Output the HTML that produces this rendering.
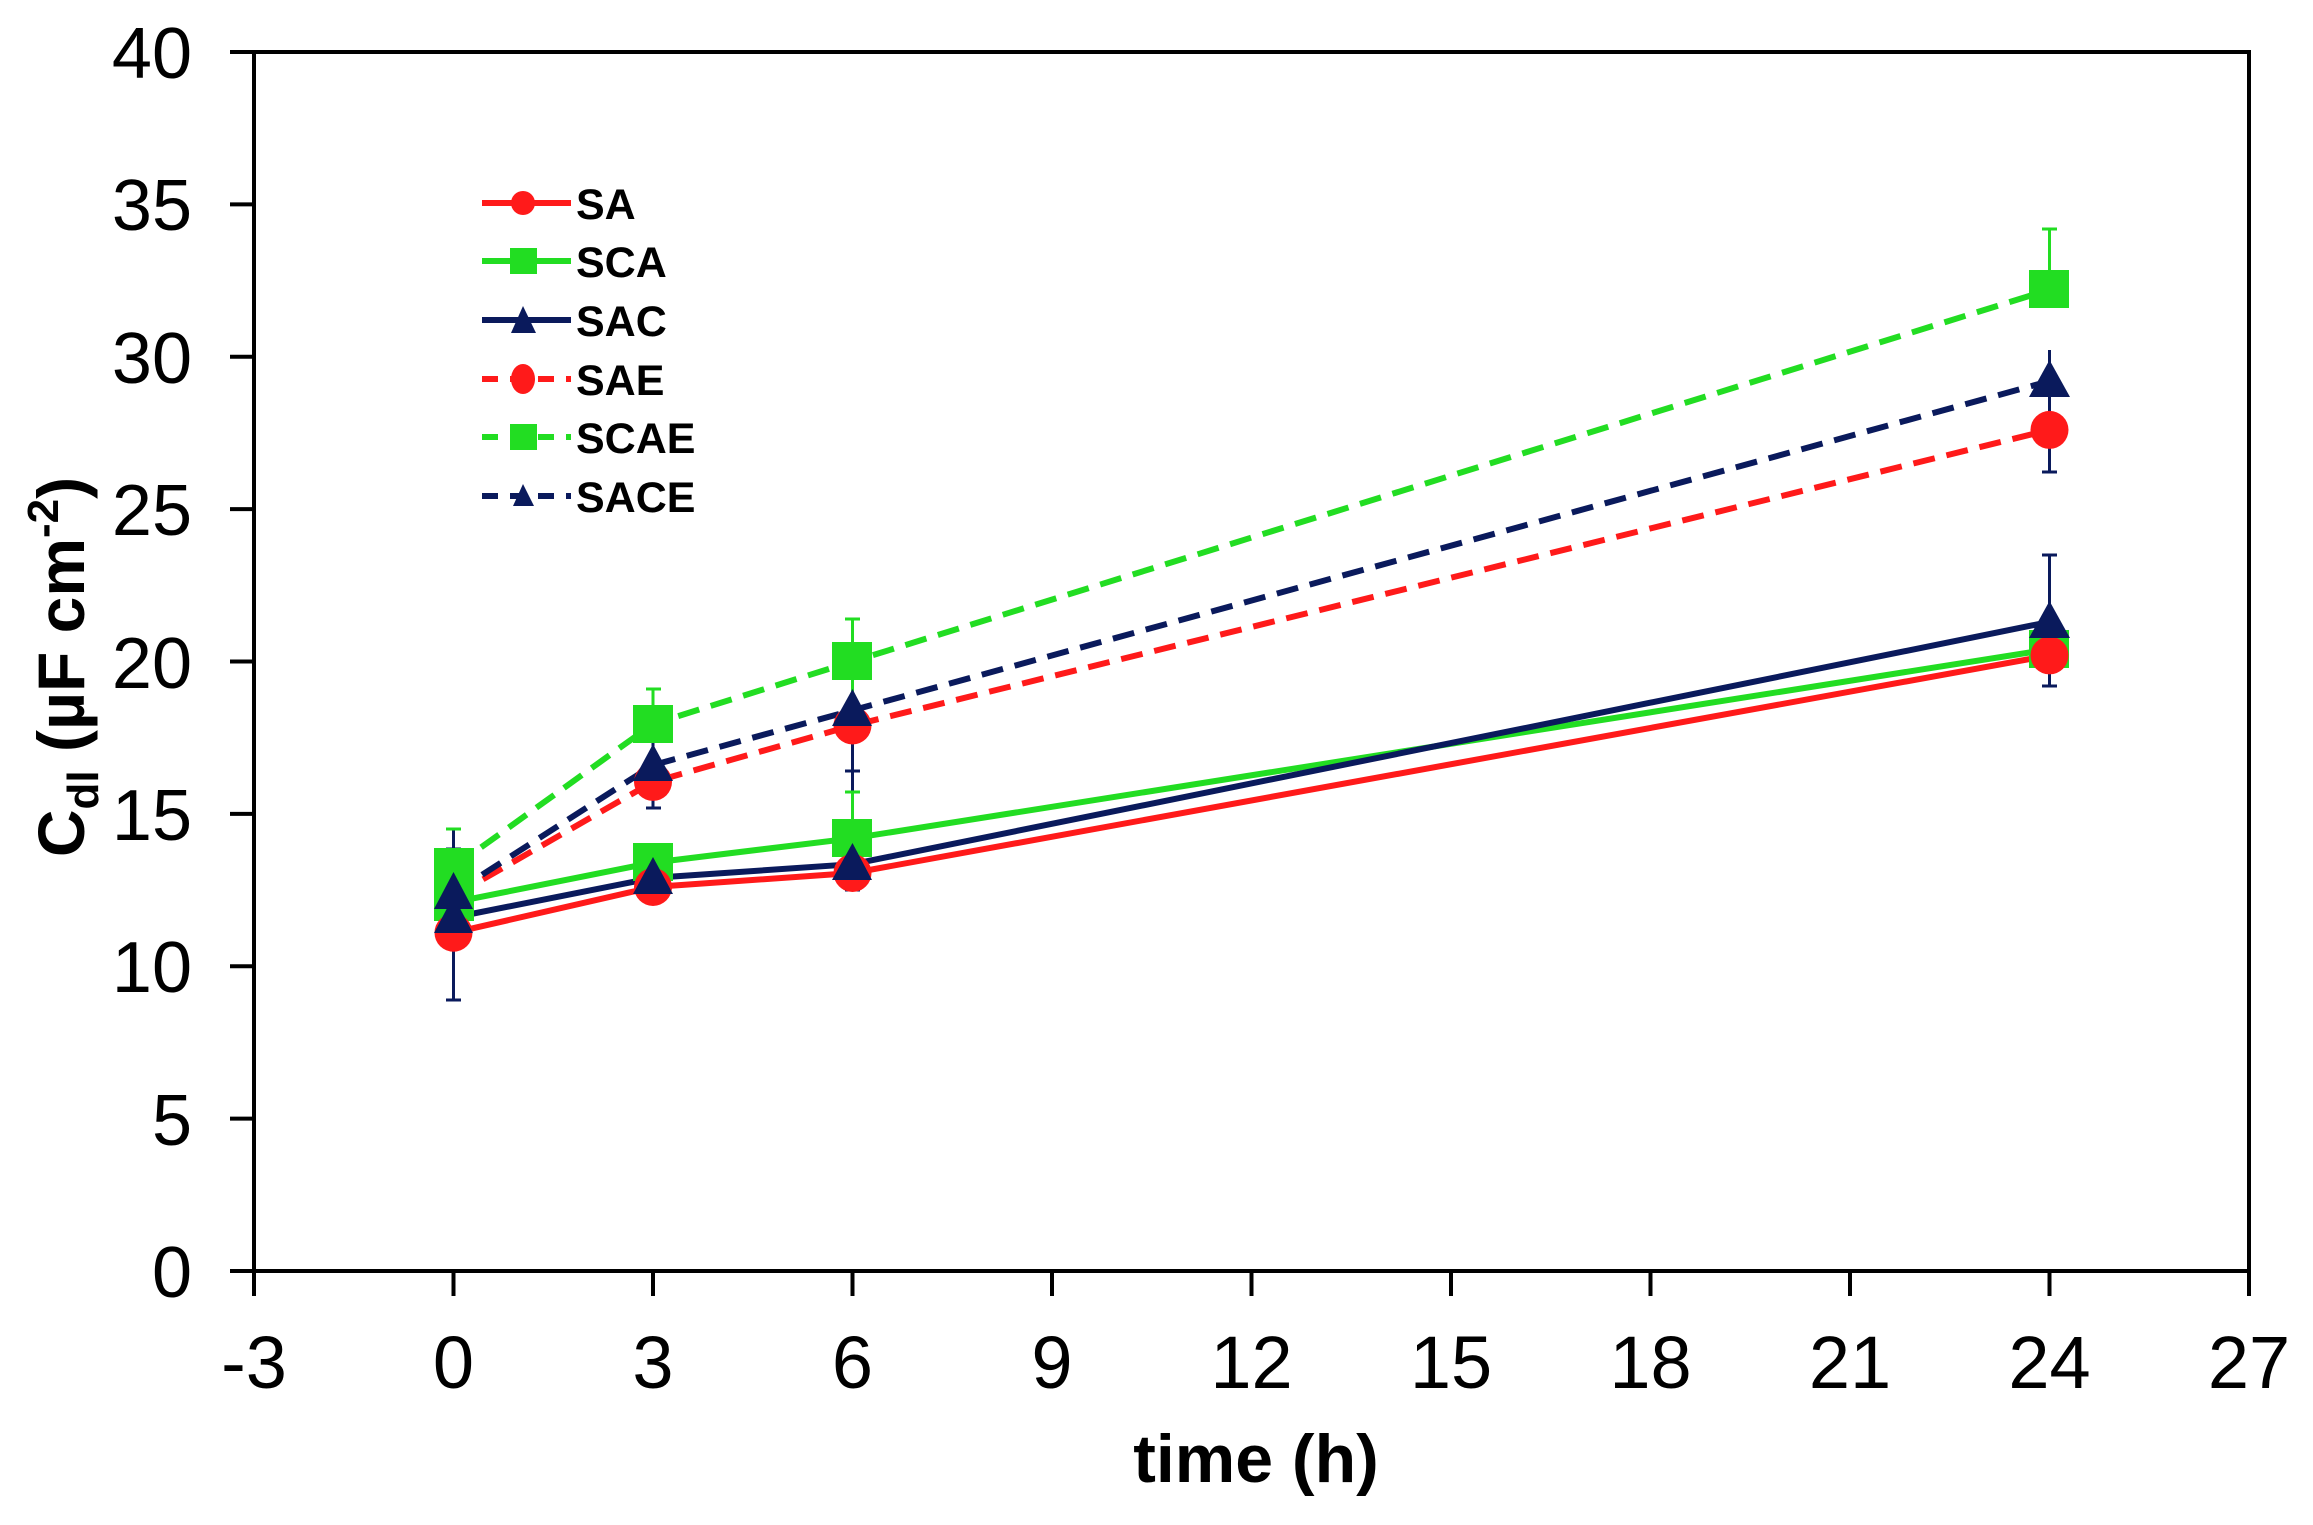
<!DOCTYPE html>
<html><head><meta charset="utf-8"><style>
html,body{margin:0;padding:0;background:#fff;}
svg{display:block}
text{font-family:"Liberation Sans",Arial,sans-serif;}
</style></head><body>
<svg width="2313" height="1525" viewBox="0 0 2313 1525" xmlns="http://www.w3.org/2000/svg">
<rect width="2313" height="1525" fill="#fff"/>
<rect x="254" y="52" width="1995" height="1219" fill="none" stroke="#000" stroke-width="4"/>
<g stroke="#000" stroke-width="4">
<line x1="230" y1="52" x2="254" y2="52"/><line x1="230" y1="204.4" x2="254" y2="204.4"/>
<line x1="230" y1="356.8" x2="254" y2="356.8"/><line x1="230" y1="509.1" x2="254" y2="509.1"/>
<line x1="230" y1="661.5" x2="254" y2="661.5"/><line x1="230" y1="813.9" x2="254" y2="813.9"/>
<line x1="230" y1="966.3" x2="254" y2="966.3"/><line x1="230" y1="1118.6" x2="254" y2="1118.6"/>
<line x1="230" y1="1271" x2="254" y2="1271"/>
<line x1="254" y1="1271" x2="254" y2="1296"/><line x1="453.5" y1="1271" x2="453.5" y2="1296"/>
<line x1="653" y1="1271" x2="653" y2="1296"/><line x1="852.5" y1="1271" x2="852.5" y2="1296"/>
<line x1="1052" y1="1271" x2="1052" y2="1296"/><line x1="1251.5" y1="1271" x2="1251.5" y2="1296"/>
<line x1="1451" y1="1271" x2="1451" y2="1296"/><line x1="1650.5" y1="1271" x2="1650.5" y2="1296"/>
<line x1="1850" y1="1271" x2="1850" y2="1296"/><line x1="2049.5" y1="1271" x2="2049.5" y2="1296"/>
<line x1="2249" y1="1271" x2="2249" y2="1296"/>
</g>
<g font-size="72" text-anchor="end" fill="#000">
<text x="192" y="78">40</text><text x="192" y="230">35</text><text x="192" y="383">30</text>
<text x="192" y="535">25</text><text x="192" y="688">20</text><text x="192" y="840">15</text>
<text x="192" y="992">10</text><text x="192" y="1145">5</text><text x="192" y="1297">0</text>
</g>
<g font-size="74" text-anchor="middle" fill="#000">
<text x="254" y="1388">-3</text><text x="453.5" y="1388">0</text><text x="653" y="1388">3</text>
<text x="852.5" y="1388">6</text><text x="1052" y="1388">9</text><text x="1251.5" y="1388">12</text>
<text x="1451" y="1388">15</text><text x="1650.5" y="1388">18</text><text x="1850" y="1388">21</text>
<text x="2049.5" y="1388">24</text><text x="2249" y="1388">27</text>
</g>
<text x="1256" y="1482" font-size="68" font-weight="bold" text-anchor="middle">time (h)</text>
<text transform="translate(84,667) rotate(-90)" font-size="66" font-weight="bold" text-anchor="middle">C<tspan font-size="44" dy="14">dl</tspan><tspan dy="-14"> (µF cm</tspan><tspan font-size="44" dy="-26">-2</tspan><tspan dy="26">)</tspan></text>

<g stroke="#0a1a5c" stroke-width="3">
<line x1="453.5" y1="1000" x2="453.5" y2="829"/><line x1="446" y1="1000" x2="461" y2="1000"/><line x1="446" y1="849" x2="461" y2="849"/>
<line x1="653" y1="808" x2="653" y2="689"/><line x1="646" y1="808" x2="661" y2="808"/>
<line x1="852.5" y1="890" x2="852.5" y2="700"/><line x1="845" y1="890" x2="860" y2="890"/><line x1="845" y1="771" x2="860" y2="771"/>
<line x1="2049.5" y1="686" x2="2049.5" y2="555"/><line x1="2042" y1="686" x2="2057" y2="686"/><line x1="2042" y1="555" x2="2057" y2="555"/>
<line x1="2049.5" y1="472" x2="2049.5" y2="350"/><line x1="2042" y1="472" x2="2057" y2="472"/>
</g>
<g stroke="#22dd22" stroke-width="3">
<line x1="653" y1="689" x2="653" y2="720"/><line x1="646" y1="689" x2="661" y2="689"/>
<line x1="852.5" y1="619" x2="852.5" y2="700"/><line x1="845" y1="619" x2="860" y2="619"/>
<line x1="852.5" y1="792" x2="852.5" y2="820"/><line x1="845" y1="792" x2="860" y2="792"/>
<line x1="2049.5" y1="229" x2="2049.5" y2="300"/><line x1="2042" y1="229" x2="2057" y2="229"/>
<line x1="446" y1="829" x2="461" y2="829"/>
</g>

<g fill="none" stroke-width="6" stroke-dasharray="22,12">
<polyline stroke="#ff1a1a" points="453.5,896.2 653,781.9 852.5,725.5 2049.5,429.9"/>
<polyline stroke="#22dd22" points="453.5,867.2 653,724 852.5,661.5 2049.5,289.7"/>
<polyline stroke="#0a1a5c" points="453.5,893.1 653,765.1 852.5,710.3 2049.5,381.1"/>
</g>
<g fill="none" stroke-width="6">
<polyline stroke="#22dd22" points="453.5,902.3 653,862.6 852.5,838.3 2049.5,649.3"/>
<polyline stroke="#ff1a1a" points="453.5,932.7 653,887 852.5,873 2049.5,655.4"/>
<polyline stroke="#0a1a5c" points="453.5,917.5 653,877.9 852.5,864.2 2049.5,621.9"/>
</g>
<g fill="#22dd22">
<rect x="434" y="883" width="40" height="38"/><rect x="633" y="843" width="40" height="38"/><rect x="832" y="819" width="40" height="38"/><rect x="2029" y="630" width="40" height="38"/>
<rect x="434" y="848" width="40" height="38"/><rect x="633" y="705" width="40" height="38"/><rect x="832" y="642" width="40" height="38"/><rect x="2029" y="270" width="40" height="38"/>
</g>
<g fill="#ff1a1a">
<circle cx="453.5" cy="932.7" r="19"/><circle cx="653" cy="887" r="19"/><circle cx="852.5" cy="873" r="19"/><circle cx="2049.5" cy="655.4" r="19"/>
<circle cx="653" cy="781.9" r="19"/><circle cx="852.5" cy="725.5" r="19"/><circle cx="2049.5" cy="429.9" r="19"/>
</g>
<g fill="#0a1a5c">
<polygon points="453.5,896 434,933 473,933"/><polygon points="653,857 633,894 673,894"/><polygon points="852.5,843 832,880 872,880"/><polygon points="2049.5,601 2029,638 2070,638"/>
<polygon points="453.5,872 434,909 473,909"/><polygon points="653,744 633,781 673,781"/><polygon points="852.5,689 832,726 872,726"/><polygon points="2049.5,360 2029,397 2070,397"/>
</g>

<g stroke-width="6">
<line x1="482" y1="203" x2="571" y2="203" stroke="#ff1a1a"/>
<line x1="482" y1="261" x2="571" y2="261" stroke="#22dd22"/>
<line x1="482" y1="320" x2="571" y2="320" stroke="#0a1a5c"/>
<line x1="482" y1="379" x2="571" y2="379" stroke="#ff1a1a" stroke-dasharray="16,12"/>
<line x1="482" y1="437" x2="571" y2="437" stroke="#22dd22" stroke-dasharray="16,12"/>
<line x1="482" y1="496" x2="571" y2="496" stroke="#0a1a5c" stroke-dasharray="16,12"/>
</g>
<circle cx="523" cy="203" r="12" fill="#ff1a1a"/>
<rect x="510" y="248" width="27" height="26" fill="#22dd22"/>
<polygon points="523,306 511,333 536,333" fill="#0a1a5c"/>
<ellipse cx="523" cy="379" rx="12" ry="15" fill="#ff1a1a"/>
<rect x="510" y="424" width="27" height="26" fill="#22dd22"/>
<polygon points="523,484 513,506 534,506" fill="#0a1a5c"/>
<g font-size="43" font-weight="bold" fill="#000">
<text x="576" y="219">SA</text><text x="576" y="277">SCA</text><text x="576" y="336">SAC</text>
<text x="576" y="395">SAE</text><text x="576" y="453">SCAE</text><text x="576" y="512">SACE</text>
</g>
</svg>
</body></html>
